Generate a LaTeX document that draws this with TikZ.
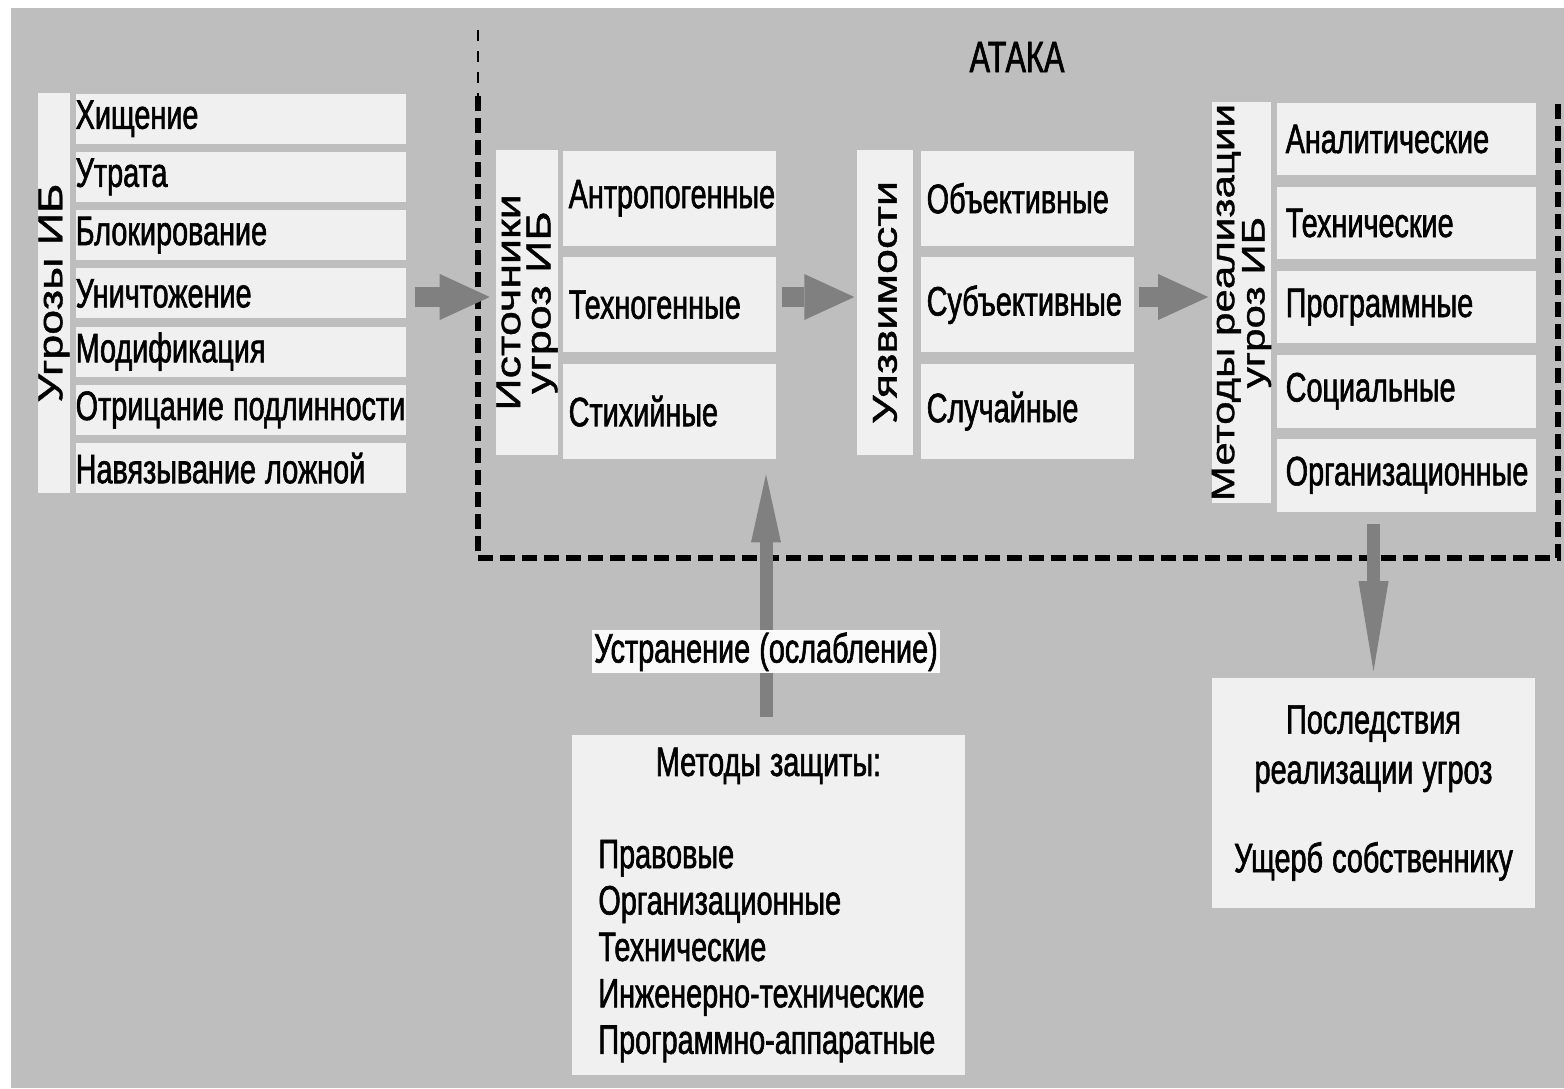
\documentclass[tikz,border=0pt]{standalone}
\usepackage{fontspec}
\setmainfont{Liberation Sans}[FakeStretch=0.7, FakeBold=1.4]
\newfontfamily\widefont{Liberation Sans}[FakeStretch=1.3, FakeBold=1.2]
\usetikzlibrary{positioning,arrows.meta}
\definecolor{bggray}{RGB}{190,190,190}
\definecolor{boxgray}{RGB}{240,240,240}
\definecolor{arrowgray}{RGB}{128,128,128}
\newcommand\itemfont{\fontsize{11.7}{14}\selectfont\spaceskip=2.6pt\relax}
\newcommand\boxfont{\fontsize{11.7}{13.2}\selectfont\spaceskip=2.6pt\relax}
\tikzset{node distance=0.1cm,
  item/.style={fill=boxgray, inner ysep=0pt, align=flush left, anchor=north west, font=\itemfont},
  thr/.style={item, text width=3.3cm, inner xsep=0pt, minimum height=0.5cm},
  cell/.style={item, text width=2.01cm, inner xsep=0.06cm, minimum height=0.95cm},
  meth/.style={item, text width=2.41cm, inner xsep=0.09cm, minimum height=0.726cm},
  strip/.style={fill=boxgray, rotate=90, inner sep=0pt, align=center,
    font=\widefont\fontsize{9.8}{8.6}\selectfont},
  fatarrow/.style={draw=arrowgray, line width=0.2cm,
    -{Triangle[length=0.5cm, width=0.46cm, line width=0pt]}},
  thinarrow/.style={draw=arrowgray, line width=0.13cm,
    -{Triangle[length=#1, width=0.3cm, line width=0pt]}},
  frame/.style={line width=0.06cm, dash pattern=on 0.15cm off 0.07cm},
  note/.style={fill=white!70!boxgray, inner sep=0.02cm, font=\itemfont},
  bigbox/.style={fill=boxgray, font=\boxfont}}

\begin{document}
\begin{tikzpicture}[x=0.01cm, y=-0.01cm]
  \useasboundingbox (0,0) rectangle (1564,1088);
  \fill[bggray] (11,8) rectangle (1564,1088);

  % ataka frame
  \draw[dashed, line width=0.02cm] (478,30) -- (478,96);
  \draw[frame] (478,96) -- (478,558) -- (1558,558) -- (1558,100);
  \node[font=\fontsize{12.5}{14}\selectfont] (ataka) at (1017,57) {АТАКА};

  % threats
  \node[strip, minimum width=4cm, minimum height=0.32cm] (threat) at (54,293) {Угрозы ИБ};
  \node[thr] (t1) at (75,93) {Хищение};
  \node[thr, below=0.068cm of t1] (t2) {Утрата};
  \node[thr, below=0.068cm of t2] (t3) {Блокирование};
  \node[thr, below=0.068cm of t3] (t4) {Уничтожение};
  \node[thr, below=0.068cm of t4] (t5) {Модификация};
  \node[thr, below=0.068cm of t5] (t6) {Отрицание подлинности};
  \node[thr, below=0.068cm of t6] (t7) {Навязывание ложной};

  % sources
  \node[strip, minimum width=3.05cm, minimum height=0.58cm] (src) at (527,302.5) {Источники\\угроз ИБ};
  \node[cell] (s1) at (562,150) {Антропогенные};
  \node[cell, below=of s1] (s2) {Техногенные};
  \node[cell, below=of s2] (s3) {Стихийные};

  % vulnerabilities
  \node[strip, minimum width=3.05cm, minimum height=0.56cm] (vul) at (885,302.5) {Уязвимости};
  \node[cell] (v1) at (920,150) {Объективные};
  \node[cell, below=of v1] (v2) {Субъективные};
  \node[cell, below=of v2] (v3) {Случайные};

  % realisation methods
  \node[strip, minimum width=4.01cm, minimum height=0.57cm, font=\widefont\fontsize{9.2}{8.6}\selectfont] (real) at (1241.5,302.5) {Методы реализации\\угроз ИБ};
  \node[meth] (m1) at (1276,102) {Аналитические};
  \node[meth, below=of m1] (m2) {Технические};
  \node[meth, below=of m2] (m3) {Программные};
  \node[meth, below=of m3] (m4) {Социальные};
  \node[meth, below=of m4] (m5) {Организационные};

  % protection and consequences
  \node[bigbox, text width=3.4cm, inner xsep=0.265cm, minimum height=3.4cm, align=flush left] (prot) at (768.5,905)
    {\makebox[\linewidth]{Методы защиты:}\\[13pt]Правовые\\Организационные\\Технические\\Инженерно-технические\\Программно-аппаратные};
  \node[bigbox, minimum width=3.23cm, minimum height=2.3cm, align=center] (cons) at (1373.5,793)
    {Последствия\\[1pt]реализации угроз\\[12pt]Ущерб собственнику};

  % arrows
  \draw[fatarrow, shorten <=0.08cm, shorten >=0.06cm] (t4.east |- 0,297) -- (src.north |- 0,297);
  \draw[fatarrow, shorten <=0.05cm, shorten >=0.02cm] (s2.east |- 0,297) -- (vul.north |- 0,297);
  \draw[fatarrow, shorten <=0.04cm, shorten >=0.03cm] (v2.east |- 0,297) -- (real.north |- 0,297);
  \draw[thinarrow=0.68cm, shorten <=0.17cm, shorten >=0.15cm] (prot.north -| 766,0) -- (s3.south -| 766,0)
    node[note, pos=0.3] (elim) {Устранение (ослабление)};
  \draw[thinarrow=0.9cm, shorten <=0.12cm, shorten >=0.06cm] (m5.south -| cons.north) -- (cons.north);
\end{tikzpicture}
\end{document}
